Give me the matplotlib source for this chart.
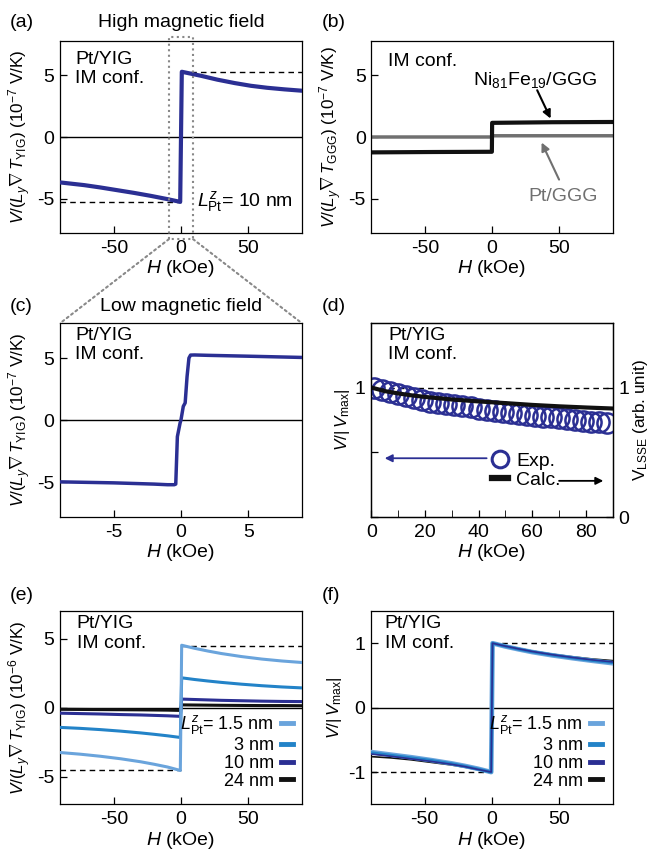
import matplotlib
matplotlib.use('Agg')
import matplotlib.pyplot as plt
from matplotlib.patches import ConnectionPatch
from matplotlib.lines import Line2D

# ---------------- data ----------------
# (a) Pt/YIG, 10 nm, high field (1e-7 V/K)
a_H = [-90, -72, -60, -47.5, -35, -22.6, -10, -0.6, 0.6, 15, 27, 40, 52, 64, 77, 90]
a_V = [-3.69, -3.91, -4.10, -4.32, -4.54, -4.78, -5.05, -5.27, 5.30, 4.97, 4.66, 4.38, 4.16, 4.00, 3.87, 3.76]
a_ref = 5.3

# (b) GGG references (1e-7 V/K)
b_H = [-90, -45, -0.1, 0.1, 45, 90]
b_NiFe = [-1.25, -1.22, -1.20, 1.15, 1.20, 1.22]
b_PtGGG = [0.0, 0.0, 0.0, 0.1, 0.1, 0.1]

# (c) Pt/YIG, low field (1e-7 V/K)
c_H = [-9, -5, -2, -1, -0.5, -0.39, -0.27, -0.07, 0, 0.17, 0.31, 0.45, 0.59, 0.71, 1, 2, 5, 9]
c_V = [-4.97, -5.05, -5.15, -5.2, -5.2, -5.15, -1.33, -0.24, 0.03, 1.11, 1.39, 3.5, 5.0, 5.24, 5.25, 5.22, 5.15, 5.05]

# (d) normalized field dependence
d_H_exp = [1, 4, 7, 10, 13, 16, 19, 22, 25, 28, 31, 34, 37, 40, 43, 46, 49, 52, 55, 58,
           61, 64, 67, 70, 73, 76, 79, 82, 85, 88]
d_V_exp = [1.00, 0.98, 0.965, 0.95, 0.935, 0.92, 0.905, 0.893, 0.883, 0.873, 0.864, 0.856,
           0.848, 0.840, 0.832, 0.824, 0.816, 0.808, 0.800, 0.792, 0.785, 0.778, 0.771, 0.764,
           0.757, 0.750, 0.744, 0.738, 0.732, 0.726]
d_H_calc = [0.5, 5, 10, 15, 20, 30, 40, 50, 60, 70, 80, 90]
d_V_calc = [1.0, 0.975, 0.957, 0.942, 0.93, 0.91, 0.895, 0.882, 0.868, 0.857, 0.848, 0.84]

# (e), (f) thickness dependence
ef_H = [-90, -75, -60, -45, -30, -20, -10, -0.5, 0.5, 10, 20, 30, 45, 60, 75, 90]
thick_labels = [r'$L^{z}_{\rm Pt}$= 1.5 nm', '3 nm', '10 nm', '24 nm']
e_V15 = [-3.25, -3.37, -3.52, -3.70, -3.92, -4.10, -4.30, -4.55, 4.52, 4.30, 4.10, 3.92, 3.70, 3.52, 3.38, 3.27]
e_V3 = [-1.43, -1.50, -1.59, -1.70, -1.83, -1.93, -2.04, -2.16, 2.16, 2.04, 1.93, 1.83, 1.70, 1.59, 1.50, 1.43]
e_V10 = [-0.40, -0.43, -0.46, -0.50, -0.53, -0.56, -0.59, -0.63, 0.62, 0.59, 0.56, 0.53, 0.50, 0.47, 0.45, 0.44]
e_V24 = [-0.12, -0.13, -0.14, -0.15, -0.16, -0.17, -0.18, -0.20, 0.20, 0.19, 0.18, 0.17, 0.16, 0.15, 0.15, 0.14]
e_ref = 4.5

f_V15 = [-0.69, -0.73, -0.77, -0.815, -0.865, -0.905, -0.95, -1.0, 1.0, 0.95, 0.905, 0.863, 0.812, 0.768, 0.727, 0.69]
f_V3 = [-0.70, -0.74, -0.78, -0.82, -0.87, -0.91, -0.955, -1.0, 1.0, 0.953, 0.908, 0.867, 0.817, 0.773, 0.733, 0.70]
f_V10 = [-0.72, -0.755, -0.795, -0.835, -0.88, -0.915, -0.96, -1.0, 1.0, 0.955, 0.912, 0.872, 0.822, 0.779, 0.741, 0.71]
f_V24 = [-0.76, -0.78, -0.81, -0.85, -0.89, -0.925, -0.965, -1.0, 1.0, 0.96, 0.92, 0.88, 0.83, 0.79, 0.755, 0.73]

NAVY = '#2b2f93'
MBLUE = '#2383c8'
LBLUE = '#6aa4dc'
GRAY = '#707070'

FS = 14
YFS = 12.3
LFS = 13

plt.rcParams.update({
    'font.family': ['Liberation Sans', 'DejaVu Sans'],
    'font.size': FS,
    'mathtext.fontset': 'custom',
    'mathtext.rm': 'Liberation Sans',
    'mathtext.it': 'Liberation Sans:italic',
    'mathtext.bf': 'Liberation Sans:bold',
    'mathtext.sf': 'Liberation Sans',
    'axes.unicode_minus': False,
    'axes.linewidth': 0.9,
    'axes.labelsize': FS,
    'xtick.labelsize': FS,
    'ytick.labelsize': FS,
    'xtick.direction': 'in',
    'ytick.direction': 'in',
    'xtick.major.size': 5,
    'ytick.major.size': 5,
    'xtick.minor.size': 5,
    'xtick.major.width': 0.9,
    'ytick.major.width': 0.9,
    'xtick.major.pad': 5,
    'ytick.major.pad': 4,
})

fig = plt.figure(figsize=(6.51, 8.5), dpi=100)
W, Hf = 651.0, 850.0

def add_ax(l, r, t, b):
    return fig.add_axes([l / W, 1 - b / Hf, (r - l) / W, (b - t) / Hf])

ax_a = add_ax(60, 302, 41, 233)
ax_b = add_ax(371.3, 612.7, 41, 233)
ax_c = add_ax(60, 302, 323.3, 517)
ax_d = add_ax(371.3, 612.7, 323.3, 517)
ax_e = add_ax(60, 302, 611, 804.3)
ax_f = add_ax(371, 612.7, 611, 804.3)

ylab7 = lambda sub, p: r'$V$/($L_y\nabla\, T_{\rm %s}$) (10$^{%s}$ V/K)' % (sub, p)
xlab = r'$H$ (kOe)'

def field_axes(ax, lim, ticks, ylim, yticks):
    ax.set_xlim(-lim, lim)
    ax.set_xticks(ticks)
    ax.set_ylim(-ylim, ylim)
    ax.set_yticks(yticks)
    ax.set_xlabel(xlab, labelpad=1)

# ---- (a)
ax = ax_a
ax.axhline(0, color='black', lw=1.0, zorder=1)
ax.plot([0, 90], [a_ref, a_ref], ls=(0, (4, 3)), color='black', lw=1.0)
ax.plot([-90, 0], [-a_ref, -a_ref], ls=(0, (4, 3)), color='black', lw=1.0)
ax.plot(a_H, a_V, color=NAVY, lw=3.0, zorder=3)
field_axes(ax, 90, [-50, 0, 50], 7.8, [-5, 0, 5])
ax.set_ylabel(ylab7('YIG', '-7'), labelpad=3, fontsize=YFS)
ax.text(0.062, 0.95, 'Pt/YIG\nIM conf.', transform=ax.transAxes, va='top', ha='left', linespacing=1.2)
ax.text(0.963, 0.163, r'$L^{z}_{\rm Pt}$= 10 nm', transform=ax.transAxes, va='center', ha='right')
# zoom box
ax.plot([-9, -9, 9, 9, -9], [-8.3, 8.1, 8.1, -8.3, -8.3], ls=':', color='#888888', lw=1.5, clip_on=False, zorder=4)

# ---- (b)
ax = ax_b
ax.plot(b_H, b_PtGGG, color=GRAY, lw=2.5)
ax.plot(b_H, b_NiFe, color='#111111', lw=3.0)
field_axes(ax, 90, [-50, 0, 50], 7.8, [-5, 0, 5])
ax.set_ylabel(ylab7('GGG', '-7'), labelpad=3, fontsize=YFS)
ax.text(0.069, 0.892, 'IM conf.', transform=ax.transAxes, va='center', ha='left')
ax.text(32.5, 4.6, r'Ni$_{81}$Fe$_{19}$/GGG', ha='center', va='center')
ax.annotate('', xy=(43.7, 1.5), xytext=(33.7, 3.8),
            arrowprops=dict(arrowstyle='-|>', color='black', lw=1.5, shrinkA=0, shrinkB=0, mutation_scale=12))
ax.text(53, -4.8, 'Pt/GGG', ha='center', va='center', color=GRAY)
ax.annotate('', xy=(37, -0.45), xytext=(50, -3.46),
            arrowprops=dict(arrowstyle='-|>', color=GRAY, lw=1.5, shrinkA=0, shrinkB=0, mutation_scale=12))

# ---- (c)
ax = ax_c
ax.axhline(0, color='black', lw=1.0, zorder=1)
ax.plot(c_H, c_V, color=NAVY, lw=2.5, zorder=3)
field_axes(ax, 9, [-5, 0, 5], 7.8, [-5, 0, 5])
ax.set_ylabel(ylab7('YIG', '-7'), labelpad=3, fontsize=YFS)
ax.text(0.062, 0.888, 'Pt/YIG\nIM conf.', transform=ax.transAxes, va='center', ha='left', linespacing=1.2)

# ---- (d)
ax = ax_d
ax.plot([3, 90], [1, 1], ls=(0, (4, 3)), color='black', lw=1.0)
ax.plot(d_H_exp, d_V_exp, ls='none', marker='o', ms=14.5, mfc='none', mec=NAVY, mew=1.8, zorder=3)
ax.plot(d_H_calc, d_V_calc, color='#111111', lw=3.0, zorder=4)
ax.set_xlim(0, 90)
ax.set_ylim(0, 1.5)
ax.set_xticks([0, 20, 40, 60, 80])
ax.set_xticks([10, 30, 50, 70, 90], minor=True)
ax.set_yticks([0, 0.5, 1])
ax.set_yticklabels(['', '', '1'])
ax.set_xlabel(xlab, labelpad=1)
ax.set_ylabel(r'$V$/|$\,V_{\rm max}$|', labelpad=2, fontsize=YFS)
ax.text(0.07, 0.888, 'Pt/YIG\nIM conf.', transform=ax.transAxes, va='center', ha='left', linespacing=1.2)
axr = ax.twinx()
axr.set_ylim(0, 1.5)
axr.set_yticks([0, 1])
axr.set_yticklabels(['0', '1'])
axr.tick_params(direction='in', length=5, labelsize=FS)
axr.set_ylabel(r'V$_{\rm LSSE}$ (arb. unit)', labelpad=1, fontsize=YFS)
h_exp = Line2D([], [], ls='none', marker='o', ms=12, mfc='none', mec=NAVY, mew=2.2)
h_calc = Line2D([], [], color='#111111', lw=4.5)
ax.legend([h_exp, h_calc], ['Exp.', 'Calc.'], loc='center left', bbox_to_anchor=(0.5, 0.24),
          frameon=False, handlelength=0.8, handletextpad=0.45, labelspacing=0.1, borderpad=0,
          borderaxespad=0, fontsize=FS)
ax.annotate('', xy=(5, 0.455), xytext=(43, 0.455),
            arrowprops=dict(arrowstyle='-|>', color=NAVY, lw=1.3, shrinkA=0, shrinkB=0, mutation_scale=11))
ax.annotate('', xy=(86.5, 0.28), xytext=(70, 0.28),
            arrowprops=dict(arrowstyle='-|>', color='black', lw=1.3, shrinkA=0, shrinkB=0, mutation_scale=11))

# ---- (e)
ax = ax_e
ax.axhline(0, color='black', lw=1.0, zorder=1)
ax.plot([0, 90], [e_ref, e_ref], ls=(0, (4, 3)), color='black', lw=1.0)
ax.plot([-90, 0], [-e_ref, -e_ref], ls=(0, (4, 3)), color='black', lw=1.0)
ax.plot(ef_H, e_V24, color='#111111', lw=2.2, zorder=3)
ax.plot(ef_H, e_V10, color=NAVY, lw=2.2, zorder=3)
ax.plot(ef_H, e_V3, color=MBLUE, lw=2.2, zorder=3)
ax.plot(ef_H, e_V15, color=LBLUE, lw=2.2, zorder=3)
field_axes(ax, 90, [-50, 0, 50], 7.0, [-5, 0, 5])
ax.set_ylabel(ylab7('YIG', '-6'), labelpad=3, fontsize=YFS)
ax.text(0.069, 0.885, 'Pt/YIG\nIM conf.', transform=ax.transAxes, va='center', ha='left', linespacing=1.2)
hh = [Line2D([], [], color=c, lw=3.5) for c in [LBLUE, MBLUE, NAVY, '#111111']]
ax.legend(hh, thick_labels, loc='lower right', bbox_to_anchor=(0.962, 0.075), markerfirst=False,
          frameon=False, handlelength=0.65, handletextpad=0.4, labelspacing=0.05, borderpad=0,
          borderaxespad=0, fontsize=LFS)

# ---- (f)
ax = ax_f
ax.axhline(0, color='black', lw=1.0, zorder=1)
ax.plot([0, 90], [1, 1], ls=(0, (4, 3)), color='black', lw=1.0)
ax.plot([-90, 0], [-1, -1], ls=(0, (4, 3)), color='black', lw=1.0)
ax.plot(ef_H, f_V24, color='#111111', lw=1.2, zorder=3)
ax.plot(ef_H, f_V15, color=LBLUE, lw=3.4, zorder=3)
ax.plot(ef_H, f_V3, color=MBLUE, lw=2.2, zorder=3)
ax.plot(ef_H, f_V10, color=NAVY, lw=1.2, zorder=3)
field_axes(ax, 90, [-50, 0, 50], 1.5, [-1, 0, 1])
ax.set_ylabel(r'$V$/|$\,V_{\rm max}$|', labelpad=3, fontsize=YFS)
ax.text(0.057, 0.885, 'Pt/YIG\nIM conf.', transform=ax.transAxes, va='center', ha='left', linespacing=1.2)
ax.legend(hh, thick_labels, loc='lower right', bbox_to_anchor=(0.955, 0.075), markerfirst=False,
          frameon=False, handlelength=0.65, handletextpad=0.4, labelspacing=0.05, borderpad=0,
          borderaxespad=0, fontsize=LFS)

# zoom connector lines (a) -> (c)
for xa, xc in [(-9, 0), (9, 1)]:
    con = ConnectionPatch(xyA=(xa, -8.3), coordsA=ax_a.transData, xyB=(xc, 1.0), coordsB=ax_c.transAxes,
                          ls=':', color='#888888', lw=1.5)
    fig.add_artist(con)

# titles & panel labels
fig.text(181 / W, 1 - 22.7 / Hf, 'High magnetic field', ha='center', va='center', fontsize=FS)
fig.text(181 / W, 1 - 306.7 / Hf, 'Low magnetic field', ha='center', va='center', fontsize=FS,
         bbox=dict(facecolor='white', edgecolor='none', pad=1))
for lab, x, y in [('(a)', 10, 22.7), ('(b)', 322, 22.7), ('(c)', 10, 306.7), ('(d)', 322, 306.7),
                  ('(e)', 10, 595), ('(f)', 322, 595)]:
    fig.text(x / W, 1 - y / Hf, lab, ha='left', va='center', fontsize=FS)

fig.savefig('out.png', dpi=100)
